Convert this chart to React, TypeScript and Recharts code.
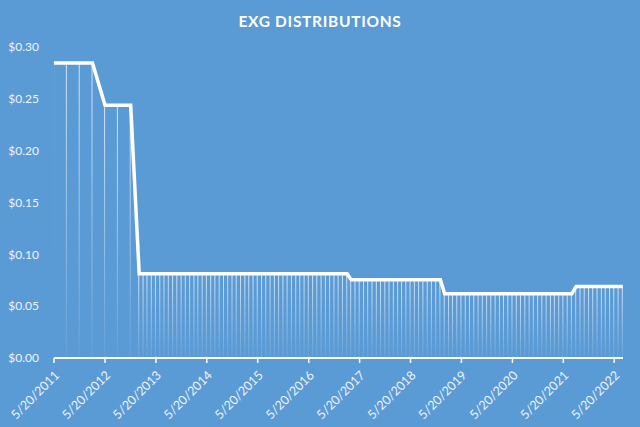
import { Bar, ComposedChart, Line, XAxis, YAxis } from 'recharts';

const BG = '#5b9bd5';
const LABEL = '#eef4fb';

// quarterly payouts before the switch to monthly
const quarterlyDates = ['2011-05-20', '2011-08-20', '2011-11-20', '2012-02-20', '2012-05-20', '2012-08-20', '2012-11-20'];
const quarterlyAmounts = [0.2846, 0.2846, 0.2846, 0.2846, 0.2438, 0.2438, 0.2438];

// monthly payouts, one row per year, Jan 2013 .. Jul 2022
const monthlyStart = { year: 2013, month: 0, day: 20 };
const monthlyAmounts = [
  0.0813, 0.0813, 0.0813, 0.0813, 0.0813, 0.0813, 0.0813, 0.0813, 0.0813, 0.0813, 0.0813, 0.0813,
  0.0813, 0.0813, 0.0813, 0.0813, 0.0813, 0.0813, 0.0813, 0.0813, 0.0813, 0.0813, 0.0813, 0.0813,
  0.0813, 0.0813, 0.0813, 0.0813, 0.0813, 0.0813, 0.0813, 0.0813, 0.0813, 0.0813, 0.0813, 0.0813,
  0.0813, 0.0813, 0.0813, 0.0813, 0.0813, 0.0813, 0.0813, 0.0813, 0.0813, 0.0813, 0.0813, 0.0813,
  0.0813, 0.0813, 0.0754, 0.0754, 0.0754, 0.0754, 0.0754, 0.0754, 0.0754, 0.0754, 0.0754, 0.0754,
  0.0754, 0.0754, 0.0754, 0.0754, 0.0754, 0.0754, 0.0754, 0.0754, 0.0754, 0.0754, 0.0754, 0.0754,
  0.062, 0.062, 0.062, 0.062, 0.062, 0.062, 0.062, 0.062, 0.062, 0.062, 0.062, 0.062,
  0.062, 0.062, 0.062, 0.062, 0.062, 0.062, 0.062, 0.062, 0.062, 0.062, 0.062, 0.062,
  0.062, 0.062, 0.062, 0.062, 0.062, 0.062, 0.062, 0.069, 0.069, 0.069, 0.069, 0.069,
  0.069, 0.069, 0.069, 0.069, 0.069, 0.069, 0.069,
];

const tickYears = [2011, 2012, 2013, 2014, 2015, 2016, 2017, 2018, 2019, 2020, 2021, 2022];
const yTicks = [0, 0.05, 0.1, 0.15, 0.2, 0.25, 0.3];
const axisEnd = '2022-07-22';

const ts = (s: string) => Date.parse(s + 'T00:00:00Z');

const data = [
  ...quarterlyDates.map((d, i) => ({ date: ts(d), amount: quarterlyAmounts[i] })),
  ...monthlyAmounts.map((a, i) => ({
    date: Date.UTC(monthlyStart.year, monthlyStart.month + i, monthlyStart.day),
    amount: a,
  })),
];

const xTicks = tickYears.map((y) => Date.UTC(y, 4, 20));

const fmtDate = (t: number) => {
  const d = new Date(t);
  return `${d.getUTCMonth() + 1}/${d.getUTCDate()}/${d.getUTCFullYear()}`;
};

function DateTick(props: any) {
  const { x, y, payload } = props;
  const px = x + 3;
  const py = y + 8;
  return (
    <text
      x={px}
      y={py}
      transform={`rotate(-45 ${px} ${py})`}
      textAnchor="end"
      dy="0.35em"
      fill={LABEL}
      fontSize={12.5}
      fontFamily="Lato, sans-serif"
    >
      {fmtDate(payload.value)}
    </text>
  );
}

export default function App() {
  return (
    <div style={{ position: 'relative', width: 640, height: 427, background: BG, fontFamily: 'Lato, sans-serif' }}>
      <style>{'body{margin:0}'}</style>
      <div
        style={{
          position: 'absolute',
          top: 12,
          left: 0,
          width: 640,
          textAlign: 'center',
          color: '#ffffff',
          fontWeight: 700,
          fontSize: 15.5,
          letterSpacing: 0.7,
        }}
      >
        EXG DISTRIBUTIONS
      </div>
      <ComposedChart
        width={640}
        height={427}
        data={data}
        margin={{ top: 47, right: 17, bottom: 0, left: 0 }}
        style={{ position: 'absolute', top: 0, left: 0 }}
      >
        <defs>
          <linearGradient id="barFade" x1="0" y1="0" x2="0" y2="1">
            <stop offset="0%" stopColor="#ffffff" stopOpacity={0.75} />
            <stop offset="100%" stopColor="#ffffff" stopOpacity={0.05} />
          </linearGradient>
        </defs>
        <XAxis
          dataKey="date"
          type="number"
          domain={[ts(quarterlyDates[0]), ts(axisEnd)]}
          ticks={xTicks}
          interval={0}
          tick={<DateTick />}
          axisLine={{ stroke: '#ffffff', strokeWidth: 2 }}
          tickLine={{ stroke: '#ffffff', strokeWidth: 1.5 }}
          tickSize={5}
          height={69}
          allowDataOverflow
        />
        <YAxis
          type="number"
          domain={[0, 0.3]}
          ticks={yTicks}
          width={54}
          axisLine={false}
          tickLine={false}
          tickFormatter={(v: number) => `$${v.toFixed(2)}`}
          tick={{ fill: LABEL, fontSize: 12, fontFamily: 'Lato, sans-serif' }}
          tickMargin={9}
        />
        <Bar dataKey="amount" barSize={1} fill="url(#barFade)" isAnimationActive={false} />
        <Line
          dataKey="amount"
          type="linear"
          stroke="#ffffff"
          strokeWidth={3.5}
          dot={false}
          activeDot={false}
          isAnimationActive={false}
        />
      </ComposedChart>
    </div>
  );
}
